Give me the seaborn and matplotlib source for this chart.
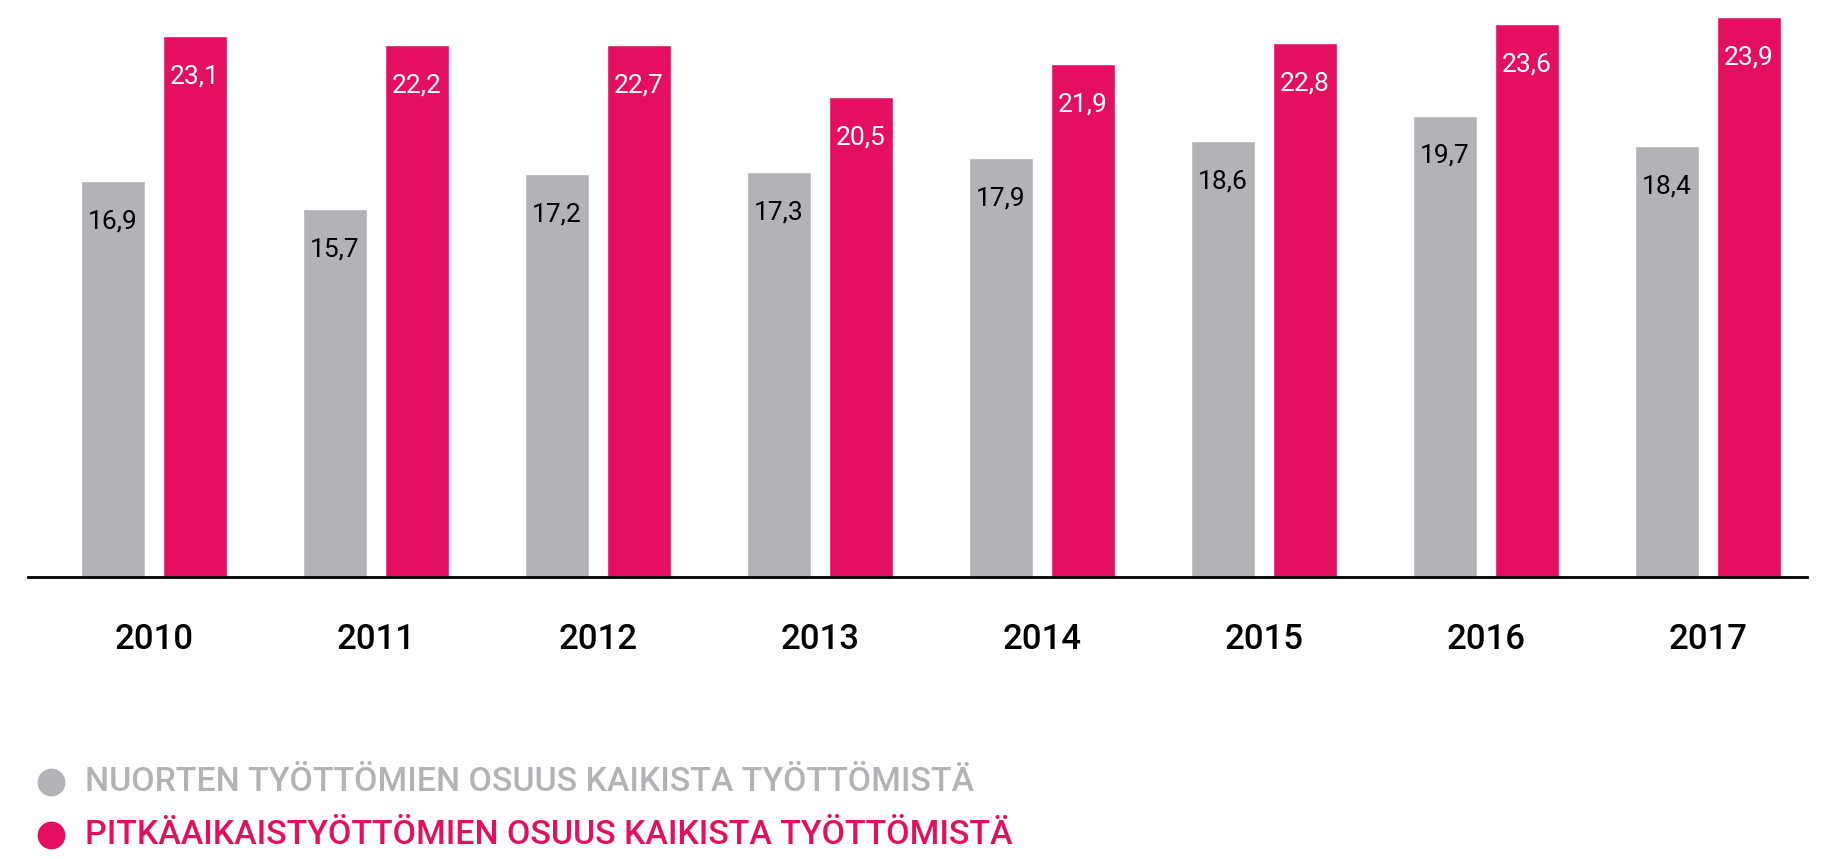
import matplotlib
matplotlib.use("Agg")
import matplotlib.pyplot as plt
from matplotlib.lines import Line2D
import seaborn as sns
import pandas as pd

# data (bar heights as drawn in the source; the 2011 long-term bar is
# drawn at the same height as 2012 although it is labelled 22,2)
years = ["2010", "2011", "2012", "2013", "2014", "2015", "2016", "2017"]
youth_share = [16.9, 15.7, 17.2, 17.3, 17.9, 18.6, 19.7, 18.4]
longterm_share = [23.1, 22.7, 22.7, 20.5, 21.9, 22.8, 23.6, 23.9]
youth_labels = ["16,9", "15,7", "17,2", "17,3", "17,9", "18,6", "19,7", "18,4"]
longterm_labels = ["23,1", "22,2", "22,7", "20,5", "21,9", "22,8", "23,6", "23,9"]
series_names = [
    "NUORTEN TYÖTTÖMIEN OSUUS KAIKISTA TYÖTTÖMISTÄ",
    "PITKÄAIKAISTYÖTTÖMIEN OSUUS KAIKISTA TYÖTTÖMISTÄ",
]
colors = ["#B1B3B6", "#E4105F"]
label_colors = ["black", "white"]

df = pd.DataFrame({
    "year": years * 2,
    "value": youth_share + longterm_share,
    "series": [series_names[0]] * len(years) + [series_names[1]] * len(years),
})

sns.set_style("white")
plt.rcParams["font.family"] = ["Roboto", "DejaVu Sans"]

fig = plt.figure(figsize=(18.34, 8.59), dpi=100)
ax = fig.add_axes([28 / 1834, (859 - 577) / 859, (1807 - 28) / 1834, 577 / 859])

sns.barplot(data=df, x="year", y="value", hue="series", palette=colors,
            width=0.739, gap=0.22, saturation=1, legend=False, ax=ax)

ax.set_xlim(-0.5676, 7.446)
ax.set_ylim(0, 24.64)

# value labels inside the bars
for container, labels, tc in zip(ax.containers, [youth_labels, longterm_labels], label_colors):
    for bar, lab in zip(container, labels):
        ax.annotate(lab,
                    xy=(bar.get_x() + bar.get_width() / 2, bar.get_height()),
                    xytext=(0, -29), textcoords="offset points",
                    ha="center", va="center", color=tc, fontsize=19)

for side in ["top", "left", "right"]:
    ax.spines[side].set_visible(False)
ax.spines["bottom"].set_color("black")
ax.spines["bottom"].set_linewidth(2)
ax.set_yticks([])
ax.set_xlabel("")
ax.set_ylabel("")
ax.tick_params(axis="x", length=0, pad=33, labelsize=25, labelcolor="black")
for t in ax.get_xticklabels():
    t.set_fontweight("medium")

# legend
for i, (name, c) in enumerate(zip(series_names, colors)):
    yc = 1 - (782 + i * 53) / 859
    fig.add_artist(Line2D([51 / 1834], [yc], marker="o", markersize=19,
                          color=c, linestyle="none", transform=fig.transFigure))
    fig.text(85 / 1834, yc, name, color=c, fontsize=24.4, va="center", ha="left",
             fontweight="medium")

fig.savefig("out.png", dpi=100)
